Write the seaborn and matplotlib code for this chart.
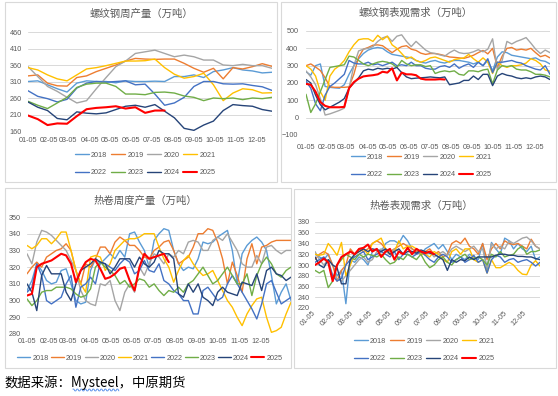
import numpy as np
import pandas as pd
import matplotlib
matplotlib.use('Agg')
import matplotlib.pyplot as plt
import seaborn as sns
from matplotlib.patches import Rectangle
from matplotlib.lines import Line2D

W, H = 558, 396

years = ['2018', '2019', '2020', '2021', '2022', '2023', '2024', '2025']
year_colors = ['#5B9BD5', '#ED7D31', '#A5A5A5', '#FFC000', '#4472C4', '#70AD47', '#264478', '#FF0000']
month_days = [4, 35, 63, 94, 124, 155, 185, 216, 247, 277, 308, 338]
month_labels = ['01-05', '02-05', '03-05', '04-05', '05-05', '06-05',
                '07-05', '08-05', '09-05', '10-05', '11-05', '12-05']

# 螺纹钢周产量 (every two weeks)
rb_prod_2018 = [310, 312, 300, 288, 278, 305, 312, 310, 310, 306, 312, 310, 310, 311, 310, 325, 325, 330, 322, 340, 345, 352, 345, 342, 336, 338]
rb_prod_2019 = [327, 330, 305, 297, 296, 322, 327, 340, 350, 360, 372, 380, 378, 377, 378, 378, 365, 350, 338, 350, 318, 352, 348, 355, 364, 356]
rb_prod_2020 = [355, 325, 295, 280, 262, 245, 252, 288, 322, 355, 372, 395, 400, 405, 395, 385, 390, 385, 375, 375, 360, 358, 362, 358, 358, 350]
rb_prod_2021 = [352, 345, 330, 318, 312, 330, 348, 352, 358, 365, 372, 372, 373, 378, 352, 332, 320, 325, 335, 300, 252, 275, 288, 285, 275, 276]
rb_prod_2022 = [282, 265, 258, 248, 256, 290, 305, 310, 308, 310, 312, 300, 302, 272, 238, 245, 262, 295, 310, 310, 303, 302, 303, 298, 294, 283]
rb_prod_2023 = [250, 238, 228, 245, 262, 292, 302, 305, 305, 295, 272, 272, 270, 277, 278, 275, 266, 262, 252, 260, 258, 260, 255, 260, 258, 262]
rb_prod_2024 = [248, 232, 222, 198, 194, 218, 214, 212, 215, 225, 235, 238, 232, 240, 220, 200, 168, 162, 178, 190, 222, 240, 237, 235, 225, 220]
rb_prod_2025 = [207, 196, 178, 183, 182, 205, 226, 230, 232, 235, 228, 232, 215, 222, 222]

# 螺纹钢表观需求 (weekly)
rb_dem_2018 = [265, 245, 300, 310, 180, 175, 172, 170, 190, 250, 300, 340, 370, 390, 400, 405, 400, 380, 365, 360,
               355, 350, 345, 330, 320, 315, 325, 330, 320, 315, 325, 330, 330, 325, 320, 310, 320, 300, 330, 270,
               350, 380, 375, 360, 355, 350, 345, 340, 345, 330, 325, 310]
rb_dem_2019 = [300, 310, 292, 272, 230, 178, 175, 175, 175, 178, 250, 350, 395, 405, 418, 420, 415, 395, 375, 395,
               410, 415, 395, 388, 372, 365, 370, 370, 365, 358, 350, 348, 345, 342, 350, 360, 375, 388, 368, 400,
               290, 355, 400, 405, 390, 395, 390, 400, 375, 352, 360, 345]
rb_dem_2020 = [270, 235, 190, 110, 15, 22, 32, 42, 55, 170, 300, 385, 395, 400, 410, 440, 460, 470, 440, 470,
               478, 440, 410, 440, 415, 390, 375, 370, 362, 355, 375, 390, 375, 370, 372, 380, 392, 380, 395, 455,
               275, 330, 440, 425, 440, 450, 462, 430, 395, 370, 390, 375]
rb_dem_2021 = [300, 280, 240, 150, 100, 240, 280, 300, 330, 380, 420, 450, 455, 455, 440, 475, 450, 470, 420, 400,
               370, 340, 350, 330, 320, 330, 345, 350, 340, 330, 320, 335, 340, 345, 365, 340, 320, 345, 320, 255,
               320, 300, 290, 300, 300, 305, 315, 340, 330, 310, 275, 268]
rb_dem_2022 = [210, 170, 80, 40, 130, 180, 200, 225, 250, 330, 315, 310, 310, 320, 305, 310, 300, 310, 320, 300,
               305, 300, 320, 300, 300, 285, 280, 280, 295, 300, 290, 310, 285, 300, 310, 290, 320, 300, 340, 260,
               320, 320, 325, 330, 320, 315, 300, 290, 280, 275, 300, 250]
rb_dem_2023 = [135, 30, 80, 150, 220, 290, 295, 300, 305, 355, 350, 330, 310, 300, 310, 320, 325, 320, 310, 290,
               330, 310, 300, 305, 305, 295, 300, 255, 265, 270, 265, 270, 250, 245, 270, 270, 265, 275, 280, 195,
               275, 300, 295, 300, 280, 275, 275, 265, 250, 250, 245, 235]
rb_dem_2024 = [220, 200, 130, 75, 45, 60, 75, 90, 110, 170, 200, 230, 270, 280, 275, 285, 280, 285, 280, 290,
               260, 235, 225, 228, 230, 232, 235, 232, 230, 235, 190, 195, 200, 215, 215, 240, 220, 250, 250, 185,
               240, 255, 245, 240, 230, 225, 230, 225, 235, 240, 235, 220]
rb_dem_2025 = [195, 190, 150, 90, 68, 60, 60, 60, 62, 170, 205, 225, 238, 242, 245, 250, 265, 260, 285, 215,
               260, 250, 250, 245, 225, 220, 220, 220, 222, 220]

# 热卷周度产量 (weekly)
hc_prod_2018 = [306, 312, 322, 318, 312, 310, 311, 318, 319, 310, 300, 298, 299, 318, 325, 322, 325, 328, 325, 330,
                326, 340, 341, 335, 330, 320, 336, 340, 343, 342, 330, 322, 318, 320, 319, 325, 335, 334, 335, 338,
                340, 342, 330, 310, 328, 333, 336, 338, 335, 330, 315, 298, 305, 310, 300]
hc_prod_2019 = [316, 320, 323, 320, 326, 328, 330, 331, 334, 330, 318, 310, 322, 320, 325, 332, 332, 328, 335, 338,
                336, 333, 333, 330, 326, 325, 330, 332, 335, 336, 330, 322, 324, 326, 332, 340, 340, 343, 342, 335,
                325, 310, 323, 315, 305, 325, 334, 322, 332, 333, 335, 336, 336, 336, 336]
hc_prod_2020 = [328, 322, 335, 342, 341, 339, 336, 333, 330, 324, 318, 306, 300, 298, 297, 310, 309, 312, 300, 294,
                305, 310, 305, 320, 315, 322, 328, 326, 322, 328, 326, 330, 328, 335, 336, 335, 330, 330, 336, 338,
                336, 340, 335, 330, 322, 320, 320, 327, 322, 332, 333, 330, 328, 330, 330]
hc_prod_2021 = [333, 331, 333, 337, 337, 334, 337, 341, 341, 330, 318, 310, 305, 326, 327, 326, 318, 322, 330, 333,
                336, 337, 337, 338, 340, 340, 340, 332, 325, 320, 311, 318, 324, 327, 322, 318, 315, 316, 318, 312,
                306, 300, 296, 290, 285, 292, 297, 301, 302, 290, 281, 282, 284, 292, 299]
hc_prod_2022 = [305, 308, 322, 315, 300, 298, 300, 302, 310, 315, 296, 308, 310, 314, 310, 323, 322, 320, 318, 322,
                325, 323, 316, 318, 324, 318, 317, 322, 312, 310, 306, 304, 300, 300, 292, 292, 306, 308, 304, 300,
                302, 310, 315, 310, 305, 300, 295, 289, 298, 310, 312, 305, 298, 300, 302]
hc_prod_2023 = [301, 297, 300, 305, 306, 306, 308, 308, 308, 307, 304, 302, 303, 307, 320, 323, 320, 318, 315, 310,
                312, 308, 310, 313, 312, 308, 310, 306, 303, 306, 305, 308, 305, 310, 312, 316, 320, 315, 310, 312,
                316, 320, 315, 310, 310, 316, 303, 315, 322, 326, 322, 316, 314, 318, 320]
hc_prod_2024 = [310, 305, 294, 315, 321, 316, 316, 316, 305, 300, 310, 318, 320, 322, 325, 323, 322, 316, 320, 325,
                325, 325, 320, 326, 322, 320, 323, 330, 328, 328, 325, 304, 302, 310, 305, 310, 302, 300, 297, 305,
                308, 305, 304, 303, 311, 310, 309, 316, 306, 318, 320, 316, 315, 312, 314]
hc_prod_2025 = [303, 304, 320, 322, 323, 324, 326, 328, 327, 322, 311, 318, 323, 325, 324, 319, 313, 314, 316, 319,
                320, 312, 306, 320, 328, 325, 326, 327, 328, 323]

# 热卷表观需求 (weekly)
hc_dem_2018 = [320, 315, 310, 320, 300, 280, 290, 228, 310, 305, 315, 310, 300, 325, 330, 325, 340, 345, 345, 340,
               355, 345, 330, 325, 320, 330, 335, 340, 330, 338, 325, 310, 320, 315, 310, 320, 315, 310, 340, 290,
               342, 330, 320, 350, 345, 330, 340, 330, 325, 335, 310, 315]
hc_dem_2019 = [310, 320, 325, 320, 300, 270, 290, 300, 330, 320, 330, 325, 330, 340, 345, 340, 330, 325, 330, 335,
               340, 335, 330, 325, 320, 325, 330, 320, 325, 315, 320, 340, 345, 340, 350, 335, 330, 320, 340, 310,
               330, 340, 330, 345, 340, 338, 340, 335, 330, 348, 335, 330]
hc_dem_2020 = [325, 310, 300, 310, 280, 275, 270, 280, 290, 300, 310, 315, 305, 310, 325, 330, 325, 320, 330, 325,
               320, 330, 325, 320, 325, 318, 325, 315, 320, 325, 318, 330, 335, 330, 325, 330, 335, 325, 330, 295,
               340, 330, 335, 330, 345, 340, 345, 350, 352, 345, 335, 330]
hc_dem_2021 = [320, 318, 320, 340, 330, 318, 342, 280, 300, 320, 325, 330, 320, 340, 345, 350, 330, 320, 325, 345,
               330, 335, 335, 330, 320, 320, 315, 325, 320, 310, 305, 325, 330, 320, 330, 330, 310, 305, 310, 285,
               310, 295, 295, 300, 305, 300, 290, 283, 282, 300, 308, 298]
hc_dem_2022 = [305, 310, 315, 305, 280, 270, 275, 300, 310, 315, 320, 325, 310, 315, 320, 325, 320, 315, 325, 310,
               320, 320, 315, 320, 325, 318, 310, 305, 315, 320, 315, 305, 310, 315, 305, 310, 318, 305, 310, 285,
               310, 318, 315, 305, 310, 312, 305, 308, 310, 305, 298, 305]
hc_dem_2023 = [290, 285, 290, 258, 270, 300, 310, 320, 315, 310, 320, 315, 320, 318, 315, 320, 310, 302, 305, 315,
               310, 320, 315, 310, 320, 305, 295, 300, 310, 315, 305, 300, 310, 315, 320, 310, 312, 315, 310, 300,
               320, 315, 325, 315, 318, 320, 330, 335, 320, 325, 325, 328]
hc_dem_2024 = [315, 300, 295, 310, 300, 295, 265, 265, 310, 320, 325, 330, 325, 330, 328, 325, 330, 320, 325, 330,
               320, 325, 325, 322, 328, 325, 322, 320, 315, 310, 290, 310, 305, 310, 308, 315, 310, 315, 315, 315,
               315, 318, 320, 320, 318, 318, 316, 316, 315, 315, 312, 310]
hc_dem_2025 = [300, 305, 312, 305, 270, 300, 315, 320, 325, 320, 330, 332, 338, 325, 330, 315, 325, 330, 310, 325,
               320, 332, 320, 330, 325, 322, 325, 320]

rb_prod = [rb_prod_2018, rb_prod_2019, rb_prod_2020, rb_prod_2021, rb_prod_2022, rb_prod_2023, rb_prod_2024, rb_prod_2025]
rb_dem = [rb_dem_2018, rb_dem_2019, rb_dem_2020, rb_dem_2021, rb_dem_2022, rb_dem_2023, rb_dem_2024, rb_dem_2025]
hc_prod = [hc_prod_2018, hc_prod_2019, hc_prod_2020, hc_prod_2021, hc_prod_2022, hc_prod_2023, hc_prod_2024, hc_prod_2025]
hc_dem = [hc_dem_2018, hc_dem_2019, hc_dem_2020, hc_dem_2021, hc_dem_2022, hc_dem_2023, hc_dem_2024, hc_dem_2025]

sns.set_style('white')
plt.rcParams['font.family'] = ['Liberation Sans Narrow', 'Liberation Sans', 'Noto Sans CJK SC']
CJK = ['Noto Sans CJK SC', 'DejaVu Sans']
GRAY = '#595959'

fig = plt.figure(figsize=(W / 100, H / 100), dpi=100)


def px_axes(left, top, right, bottom):
    return fig.add_axes([left / W, 1 - bottom / H, (right - left) / W, (bottom - top) / H])


def frame(left, top, right, bottom):
    fig.patches.append(Rectangle((left / W, 1 - bottom / H), (right - left) / W, (bottom - top) / H,
                                 transform=fig.transFigure, fill=False, ec='#D9D9D9', lw=0.8))


def draw_panel(ax, series, step, xlim, ylim, yticks, xpad, ypad, rotate=False):
    frames = []
    for yr, vals in zip(years, series):
        frames.append(pd.DataFrame({'day': 4 + step * np.arange(len(vals)), 'value': vals, 'year': yr}))
    df = pd.concat(frames, ignore_index=True)
    for yr, col in zip(years, year_colors):
        sns.lineplot(data=df[df['year'] == yr], x='day', y='value', color=col,
                     lw=1.5 if yr == '2025' else 1.0, ax=ax)
    ax.set_xlim(*xlim)
    ax.set_ylim(*ylim)
    ax.set_yticks(yticks)
    ax.set_xticks(month_days)
    if rotate:
        ax.set_xticklabels(month_labels, rotation=45, ha='right', va='center', rotation_mode='anchor')
    else:
        ax.set_xticklabels(month_labels)
    ax.set_xlabel('')
    ax.set_ylabel('')
    ax.tick_params(axis='both', length=0, labelsize=5.2, colors=GRAY)
    ax.tick_params(axis='x', pad=xpad)
    ax.tick_params(axis='y', pad=ypad)
    ax.yaxis.grid(True, color='#D9D9D9', lw=0.7)
    ax.xaxis.grid(False)
    for s in ax.spines.values():
        s.set_visible(False)
    ax.set_facecolor('none')


def legend(cx, cy, ncol, handlelength=2.0, columnspacing=0.45):
    handles = [Line2D([], [], color=c, lw=1.5 if y == '2025' else 1.0) for y, c in zip(years, year_colors)]
    labels = list(years)
    if ncol == 4:
        order = [0, 4, 1, 5, 2, 6, 3, 7]
        handles = [handles[i] for i in order]
        labels = [labels[i] for i in order]
    fig.legend(handles, labels, loc='center', bbox_to_anchor=(cx / W, 1 - cy / H), ncol=ncol,
               frameon=False, fontsize=5.2, handlelength=handlelength, handletextpad=0.3,
               columnspacing=columnspacing, labelspacing=1.4, labelcolor=GRAY, borderpad=0.1)


frame(5, 2, 277, 182)
frame(281, 2, 556, 182)
frame(5, 188, 291, 368)
frame(294, 189, 556, 368)

ax1 = px_axes(28, 32, 272, 131)
draw_panel(ax1, rb_prod, 357 / 25, (4, 361), (160, 460), range(160, 461, 50), 4, 4.5)
fig.text(141 / W, 1 - 14 / H, '螺纹钢周产量（万吨）', ha='center', va='center', fontsize=7.5, color=GRAY, family=CJK)
legend(145, 164, 4)

ax2 = px_axes(306, 31, 550, 135)
draw_panel(ax2, rb_dem, 7, (4, 361), (-100, 500), range(-100, 501, 100), 6.5, 5.5)
fig.text(416 / W, 1 - 13 / H, '螺纹钢表观需求（万吨）', ha='center', va='center', fontsize=7.5, color=GRAY, family=CJK)
legend(421, 166, 4)

ax3 = px_axes(27, 217, 291, 334)
draw_panel(ax3, hc_prod, 7, (4, 382), (280, 350), range(280, 351, 10), 3, 4.5)
fig.text(145 / W, 1 - 201 / H, '热卷周度产量（万吨）', ha='center', va='center', fontsize=7.5, color=GRAY, family=CJK)
legend(150, 358, 8, handlelength=1.8, columnspacing=0.3)

ax4 = px_axes(315, 222, 540, 308)
draw_panel(ax4, hc_dem, 7, (4, 361), (220, 380), range(220, 381, 20), 3, 4, rotate=True)
fig.text(421 / W, 1 - 206 / H, '热卷表观需求（万吨）', ha='center', va='center', fontsize=7.5, color=GRAY, family=CJK)
legend(424, 350, 4)

# source note, with the spell-check squiggle under "Mysteel"
note_head = '数据来源：'
note_word = 'Mysteel'
note = fig.text(5 / W, 1 - 383 / H, note_head + note_word + '，中原期货', ha='left', va='center',
                fontsize=9.6, color='black', family=CJK)
renderer = fig.canvas.get_renderer()
probe = fig.text(5 / W, 1 - 383 / H, note_head, ha='left', va='center', fontsize=9.6, family=CJK)
x0 = probe.get_window_extent(renderer).x1
probe.set_text(note_head + note_word)
x1 = probe.get_window_extent(renderer).x1
probe.remove()
wx = np.arange(x0 + 1, x1, 1.0)
wy = (H - 390) + 0.9 * ((np.arange(len(wx)) % 4 < 2) * 2 - 1)
fig.add_artist(Line2D(wx / W, wy / H, transform=fig.transFigure, color='#4A86E8', lw=0.6))

fig.savefig('out.png', dpi=100)
